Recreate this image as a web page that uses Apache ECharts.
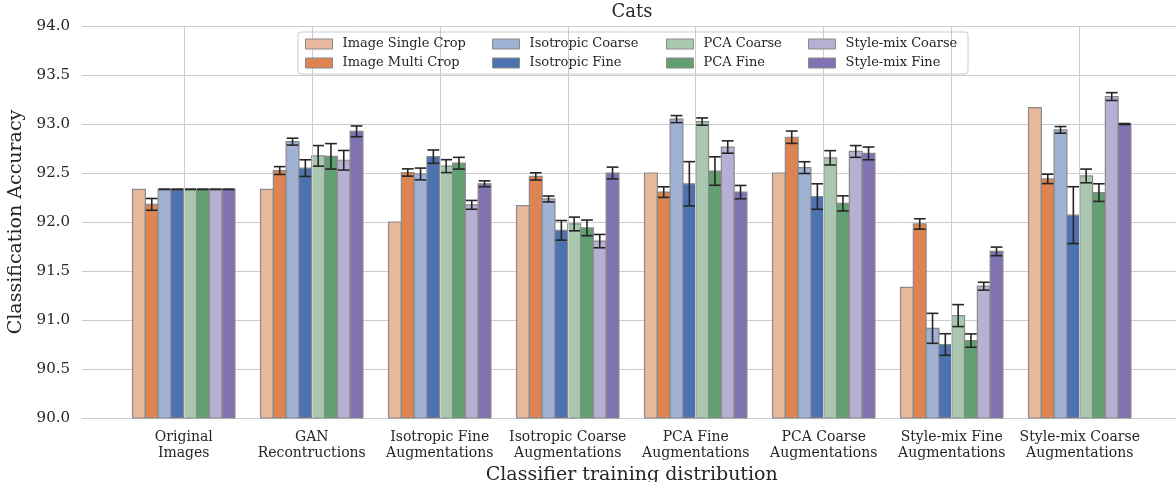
<!DOCTYPE html>
<html>
<head>
<meta charset="utf-8">
<script src="https://cdn.jsdelivr.net/npm/echarts@6/dist/echarts.min.js"></script>
<style>
  html, body { margin: 0; padding: 0; background: #ffffff; }
  #chart { width: 1176px; height: 482px; }
</style>
</head>
<body>
<div id="chart"></div>
<script>
// Classifier training distributions (x categories)
const categories = [
  'Original\nImages',
  'GAN\nRecontructions',
  'Isotropic Fine\nAugmentations',
  'Isotropic Coarse\nAugmentations',
  'PCA Fine\nAugmentations',
  'PCA Coarse\nAugmentations',
  'Style-mix Fine\nAugmentations',
  'Style-mix Coarse\nAugmentations'
];

const seriesNames = [
  'Image Single Crop', 'Image Multi Crop',
  'Isotropic Coarse', 'Isotropic Fine',
  'PCA Coarse', 'PCA Fine',
  'Style-mix Coarse', 'Style-mix Fine'
];

const seriesColors = [
  '#e8b89c', '#dd8452',
  '#a0b2d4', '#4c72b0',
  '#a9c8af', '#61a070',
  '#b8b0d4', '#8172b3'
];

// Mean accuracy per category, one array per classifier
const imageSingleCrop = [92.333, 92.333, 92.0, 92.167, 92.5, 92.5, 91.333, 93.167];
const imageMultiCrop  = [92.18, 92.525, 92.505, 92.465, 92.305, 92.865, 91.98, 92.44];
const isotropicCoarse = [92.333, 92.82, 92.49, 92.235, 93.05, 92.555, 90.915, 92.94];
const isotropicFine   = [92.333, 92.55, 92.667, 91.915, 92.39, 92.26, 90.75, 92.07];
const pcaCoarse       = [92.333, 92.675, 92.57, 91.98, 93.025, 92.655, 91.045, 92.47];
const pcaFine         = [92.333, 92.67, 92.60, 91.94, 92.52, 92.19, 90.79, 92.30];
const styleMixCoarse  = [92.333, 92.63, 92.175, 91.805, 92.765, 92.72, 91.345, 93.28];
const styleMixFine    = [92.333, 92.925, 92.39, 92.50, 92.305, 92.70, 91.70, 93.0];

// Error-bar half lengths (null: no error bar drawn)
const imageSingleCropErr = [null, null, null, null, null, null, null, null];
const imageMultiCropErr  = [0.06, 0.04, 0.037, 0.037, 0.054, 0.063, 0.053, 0.048];
const isotropicCoarseErr = [0, 0.035, 0.06, 0.03, 0.036, 0.06, 0.153, 0.034];
const isotropicFineErr   = [0, 0.085, 0.068, 0.1, 0.226, 0.13, 0.11, 0.29];
const pcaCoarseErr       = [0, 0.105, 0.066, 0.07, 0.037, 0.073, 0.112, 0.07];
const pcaFineErr         = [0, 0.13, 0.06, 0.08, 0.145, 0.077, 0.068, 0.09];
const styleMixCoarseErr  = [0, 0.1, 0.045, 0.068, 0.063, 0.06, 0.04, 0.04];
const styleMixFineErr    = [0, 0.055, 0.03, 0.06, 0.068, 0.065, 0.044, 0.005];

// y-axis range and tick step
const yTicks = { min: 90.0, max: 94.0, step: 0.5 };

const means = [imageSingleCrop, imageMultiCrop, isotropicCoarse, isotropicFine,
               pcaCoarse, pcaFine, styleMixCoarse, styleMixFine];
const errs  = [imageSingleCropErr, imageMultiCropErr, isotropicCoarseErr, isotropicFineErr,
               pcaCoarseErr, pcaFineErr, styleMixCoarseErr, styleMixFineErr];

const FONT = '"DejaVu Serif", "Liberation Serif", serif';
const TEXT = '#262626';
const GRID = '#cccccc';
const groupWidth = 0.8;
const nSeries = seriesNames.length;
const barUnit = groupWidth / nSeries;
const catIdx = categories.map((_, i) => i);

function makeRender(s) {
  const off = -groupWidth / 2 + barUnit * (s + 0.5);
  return function (params, api) {
    const cat = api.value(0);
    const v = api.value(1);
    const e = api.value(2);
    const top = api.coord([cat + off, v]);
    const base = api.coord([cat + off, yTicks.min]);
    const w = api.size([barUnit, 0])[0];
    const children = [{
      type: 'rect',
      shape: { x: top[0] - w / 2, y: top[1], width: w, height: base[1] - top[1] },
      style: { fill: seriesColors[s], stroke: '#8a8a8a', lineWidth: 1.2 }
    }];
    if (e != null && !isNaN(e)) {
      const hi = api.coord([cat + off, v + e]);
      const lo = api.coord([cat + off, v - e]);
      const cap = w * 0.46;
      const st = { stroke: '#262626', lineWidth: 1.6 };
      children.push(
        { type: 'line', shape: { x1: hi[0], y1: hi[1], x2: lo[0], y2: lo[1] }, style: st },
        { type: 'line', shape: { x1: hi[0] - cap, y1: hi[1], x2: hi[0] + cap, y2: hi[1] }, style: st },
        { type: 'line', shape: { x1: lo[0] - cap, y1: lo[1], x2: lo[0] + cap, y2: lo[1] }, style: st }
      );
    }
    return { type: 'group', children };
  };
}

const barSeries = seriesNames.map((name, s) => ({
  type: 'custom',
  name,
  z: 3,
  itemStyle: { color: seriesColors[s], borderColor: '#8a8a8a', borderWidth: 1 },
  renderItem: makeRender(s),
  encode: { x: 0, y: 1 },
  data: catIdx.map(i => [i, means[s][i], errs[s][i]])
}));

// vertical grid lines at the category centres
const gridSeries = {
  type: 'line',
  name: '_grid',
  data: [],
  z: 1,
  silent: true,
  markLine: {
    silent: true,
    symbol: ['none', 'none'],
    label: { show: false },
    lineStyle: { color: GRID, width: 1, type: 'solid' },
    emphasis: { disabled: true },
    animation: false,
    data: catIdx.map(i => ({ xAxis: i }))
  }
};

function legendColumn(names, left) {
  return {
    orient: 'vertical',
    left, top: 37,
    padding: 0,
    itemWidth: 27, itemHeight: 10, itemGap: 5,
    icon: 'rect',
    selectedMode: false,
    z: 6,
    itemStyle: { borderColor: '#8a8a8a', borderWidth: 1 },
    textStyle: { fontFamily: FONT, fontSize: 13, color: TEXT, lineHeight: 14, padding: [0, 0, 0, 5] },
    data: names
  };
}

const chart = echarts.init(document.getElementById('chart'), null, { renderer: 'canvas' });
chart.setOption({
  animation: false,
  backgroundColor: '#ffffff',
  title: {
    text: 'Cats',
    left: 632, top: 3, padding: 0, textAlign: 'center',
    textStyle: { fontFamily: FONT, fontSize: 18, fontWeight: 'normal', color: TEXT }
  },
  grid: { left: 82, top: 26, width: 1099.5, height: 392, containLabel: false, outerBoundsMode: 'none' },
  graphic: [{
    type: 'rect', z: 5,
    shape: { x: 298, y: 32, width: 670, height: 42, r: 3 },
    style: { fill: 'rgba(255,255,255,0.85)', stroke: GRID, lineWidth: 1 }
  }],
  legend: [
    legendColumn(seriesNames.slice(0, 2), 305),
    legendColumn(seriesNames.slice(2, 4), 492),
    legendColumn(seriesNames.slice(4, 6), 666),
    legendColumn(seriesNames.slice(6, 8), 808)
  ],
  xAxis: {
    type: 'value',
    min: -0.795, max: categories.length - 1 + 0.795,
    name: 'Classifier training distribution',
    nameLocation: 'middle', nameGap: 45,
    nameTextStyle: { fontFamily: FONT, fontSize: 19, color: TEXT },
    axisLine: { show: true, lineStyle: { color: GRID, width: 1 } },
    axisTick: { show: false, customValues: catIdx },
    splitLine: { show: false },
    axisLabel: {
      customValues: catIdx,
      margin: 11,
      fontFamily: FONT, fontSize: 14, lineHeight: 16, color: TEXT,
      align: 'center',
      formatter: v => categories[Math.round(v)]
    }
  },
  yAxis: {
    type: 'value',
    min: yTicks.min, max: yTicks.max, interval: yTicks.step,
    name: 'Classification Accuracy',
    nameLocation: 'middle', nameGap: 55, nameRotate: 90,
    nameTextStyle: { fontFamily: FONT, fontSize: 19, color: TEXT },
    axisLine: { show: true, lineStyle: { color: GRID, width: 1 } },
    axisTick: { show: false },
    splitLine: { show: true, lineStyle: { color: GRID, width: 1 } },
    axisLabel: {
      margin: 12, fontFamily: FONT, fontSize: 15, color: TEXT,
      formatter: v => v.toFixed(1)
    }
  },
  series: [gridSeries].concat(barSeries)
});
</script>
</body>
</html>
